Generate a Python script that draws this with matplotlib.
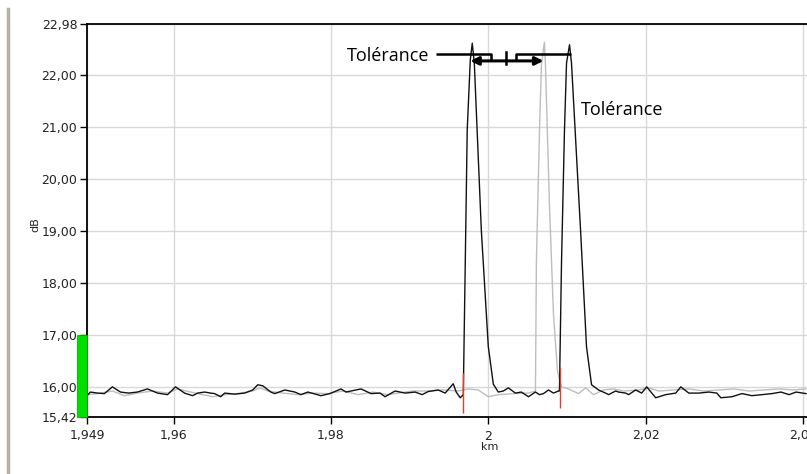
import matplotlib
matplotlib.use("Agg")
import matplotlib.pyplot as plt
from matplotlib.patches import Rectangle
from matplotlib.lines import Line2D
import matplotlib.transforms as mtransforms

# ---------------- data ----------------
black_km = [1.9490, 1.94943, 1.95032, 1.95121, 1.95223, 1.95325, 1.95427, 1.95541, 1.95669,
            1.95796, 1.95924, 1.96025, 1.96140, 1.96242, 1.96306, 1.96395, 1.96471, 1.96522,
            1.96599, 1.96650, 1.96777, 1.96904, 1.97006, 1.97070, 1.97134, 1.97236, 1.97287,
            1.97414, 1.97541, 1.97618, 1.97707, 1.97873, 1.97987, 1.98127, 1.98191, 1.98255,
            1.98382, 1.98510, 1.98624, 1.98688, 1.98815, 1.98943, 1.99070, 1.99159, 1.99236,
            1.99363, 1.99452, 1.99554, 1.99592, 1.99643, 1.99682, 1.99707, 1.99732, 1.99771,
            1.99796, 1.99822, 1.99911, 2.00000, 2.00064, 2.00127, 2.00191, 2.00255, 2.00344,
            2.00420, 2.00510, 2.00599, 2.00650, 2.00701, 2.00764, 2.00828, 2.00892, 2.00904,
            2.00930, 2.00968, 2.00994, 2.01032, 2.01057, 2.01172, 2.01248, 2.01312, 2.01401,
            2.01490, 2.01529, 2.01618, 2.01656, 2.01745, 2.01783, 2.01873, 2.01949, 2.02013,
            2.02127, 2.02255, 2.02382, 2.02446, 2.02548, 2.02675, 2.02803, 2.02904, 2.02955,
            2.03096, 2.03223, 2.03350, 2.03478, 2.03605, 2.03720, 2.03822, 2.03911, 2.04038]
black_db = [15.83, 15.90, 15.88, 15.87, 16.00, 15.90, 15.88, 15.90, 15.96,
            15.88, 15.85, 16.00, 15.88, 15.83, 15.88, 15.90, 15.88, 15.87,
            15.81, 15.88, 15.86, 15.88, 15.94, 16.04, 16.02, 15.90, 15.87,
            15.94, 15.90, 15.85, 15.90, 15.83, 15.87, 15.96, 15.90, 15.92,
            15.96, 15.87, 15.88, 15.81, 15.92, 15.88, 15.90, 15.85, 15.91,
            15.94, 15.88, 16.06, 15.90, 15.79, 15.85, 18.38, 20.94, 22.29,
            22.61, 22.23, 19.02, 16.77, 16.05, 15.90, 15.92, 15.98, 15.88,
            15.90, 15.81, 15.90, 15.85, 15.87, 15.94, 15.88, 15.92, 15.92,
            18.38, 20.94, 22.23, 22.58, 22.23, 19.02, 16.77, 16.04, 15.94,
            15.88, 15.85, 15.92, 15.90, 15.88, 15.85, 15.94, 15.88, 16.00,
            15.79, 15.85, 15.88, 16.00, 15.88, 15.88, 15.90, 15.88, 15.79,
            15.81, 15.87, 15.83, 15.85, 15.87, 15.90, 15.85, 15.90, 15.87]

gray_km = [1.9490, 1.95032, 1.95223, 1.95376, 1.95541, 1.95732, 1.95924, 1.96051, 1.96217,
           1.96369, 1.96497, 1.96650, 1.96815, 1.97006, 1.97096, 1.97197, 1.97389, 1.97580,
           1.97771, 1.97962, 1.98153, 1.98344, 1.98535, 1.98726, 1.98854, 1.99045, 1.99236,
           1.99427, 1.99618, 1.99745, 1.99873, 2.00000, 2.00127, 2.00318, 2.00510, 2.00599,
           2.00611, 2.00650, 2.00675, 2.00713, 2.00726, 2.00777, 2.00828, 2.00879, 2.00930,
           2.01019, 2.01146, 2.01236, 2.01338, 2.01465, 2.01592, 2.01720, 2.01911, 2.02038,
           2.02166, 2.02357, 2.02548, 2.02739, 2.02930, 2.03121, 2.03312, 2.03503, 2.03694,
           2.03885, 2.04038]
gray_db = [15.85, 15.87, 15.92, 15.83, 15.88, 15.92, 15.88, 15.96, 15.90,
           15.85, 15.81, 15.85, 15.87, 15.92, 15.98, 15.92, 15.88, 15.85,
           15.88, 15.87, 15.92, 15.85, 15.90, 15.85, 15.88, 15.92, 15.92,
           15.94, 15.92, 15.96, 15.94, 15.81, 15.85, 15.87, 15.88, 15.92,
           18.40, 20.90, 22.20, 22.63, 22.20, 19.50, 17.40, 16.30, 16.00,
           15.96, 15.87, 15.98, 15.85, 15.94, 15.96, 15.92, 15.94, 15.98,
           15.92, 15.94, 15.96, 15.92, 15.94, 15.96, 15.92, 15.94, 15.96,
           15.94, 15.96]

# event markers (red)
marker_km = [1.99682, 2.00916]
marker_low = [15.50, 15.60]
marker_high = [16.27, 16.38]

x_ticks = [1.949, 1.96, 1.98, 2.0, 2.02, 2.04]
x_labels = ["1,949", "1,96", "1,98", "2", "2,02", "2,04"]
y_ticks = [15.42, 16, 17, 18, 19, 20, 21, 22, 22.98]
y_labels = ["15,42", "16,00", "17,00", "18,00", "19,00", "20,00", "21,00", "22,00", "22,98"]

green_range = (15.42, 17.00)
tol_label = "Tolérance"

# ---------------- figure ----------------
W, H = 807, 474
fig = plt.figure(figsize=(W / 100, H / 100), dpi=100)
fig.patch.set_facecolor("white")

ax = fig.add_axes([87 / W, (H - 417) / H, (W - 87) / W, (417 - 24) / H])
ax.set_xlim(1.949, 2.0405)
ax.set_ylim(15.42, 22.98)

ax.set_xticks(x_ticks)
ax.set_xticklabels(x_labels)
ax.set_yticks(y_ticks)
ax.set_yticklabels(y_labels)
ax.tick_params(axis="both", direction="out", length=5, width=1, labelsize=9,
               colors="black", labelcolor="#222222", pad=2)
ax.tick_params(axis="x", pad=4)

ax.grid(True, color="#d8d8d8", linewidth=1)
ax.set_axisbelow(True)
for s in ["left", "bottom", "top"]:
    ax.spines[s].set_color("black")
    ax.spines[s].set_linewidth(1.3)
ax.spines["right"].set_visible(False)

ax.set_xlabel("km", fontsize=8, color="#222222", labelpad=3)
ax.set_ylabel("dB", fontsize=8, color="#222222", labelpad=3)
ax.xaxis.set_label_coords((490 - 87) / (W - 87), -(442 - 417) / (417 - 24))
ax.yaxis.set_label_coords(-(87 - 40) / (W - 87), (417 - 225) / (417 - 24))

# traces
ax.plot(gray_km, gray_db, color="#bdbdbd", linewidth=1.0, zorder=3)
ax.plot(black_km, black_db, color="#111111", linewidth=1.0, zorder=4)
ax.vlines(marker_km, marker_low, marker_high, color="#e04030", linewidth=1.0, zorder=5)

# green level bar left of the axis
trans = mtransforms.blended_transform_factory(fig.transFigure, ax.transData)
ax.add_patch(Rectangle((77 / W, green_range[0]), 10 / W, green_range[1] - green_range[0],
                       transform=trans, facecolor="#00e000", edgecolor="#00b000",
                       linewidth=0.6, clip_on=False, zorder=6))

# tolerance annotation (data coordinates)
ax.plot([1.99338, 2.00038, 2.00038], [22.40, 22.40, 22.27], color="black", lw=1.8,
        solid_capstyle="butt", zorder=7)
ax.plot([2.00357, 2.00357, 2.01057], [22.27, 22.40, 22.40], color="black", lw=1.8,
        solid_capstyle="butt", zorder=7)
ax.plot([2.00229, 2.00229], [22.44, 22.22], color="black", lw=1.8, zorder=7)
ax.annotate("", xy=(1.99771, 22.27), xytext=(2.00701, 22.27),
            arrowprops=dict(arrowstyle="<|-|>", color="black", lw=2.2,
                            shrinkA=0, shrinkB=0, mutation_scale=12), zorder=7)
ax.text(1.99250, 22.36, tol_label, ha="right", va="center", fontsize=13,
        family="Open Sans", color="black", zorder=8)
ax.text(2.01172, 21.33, tol_label, ha="left", va="center", fontsize=13,
        family="Open Sans", color="black", zorder=8)

# window frame line on the left
fig.add_artist(Line2D([8 / W, 8 / W], [0, 1 - 9 / H], transform=fig.transFigure,
                      color="#b5b1a6", linewidth=2.5))

fig.savefig("out.png", dpi=100, facecolor="white")
